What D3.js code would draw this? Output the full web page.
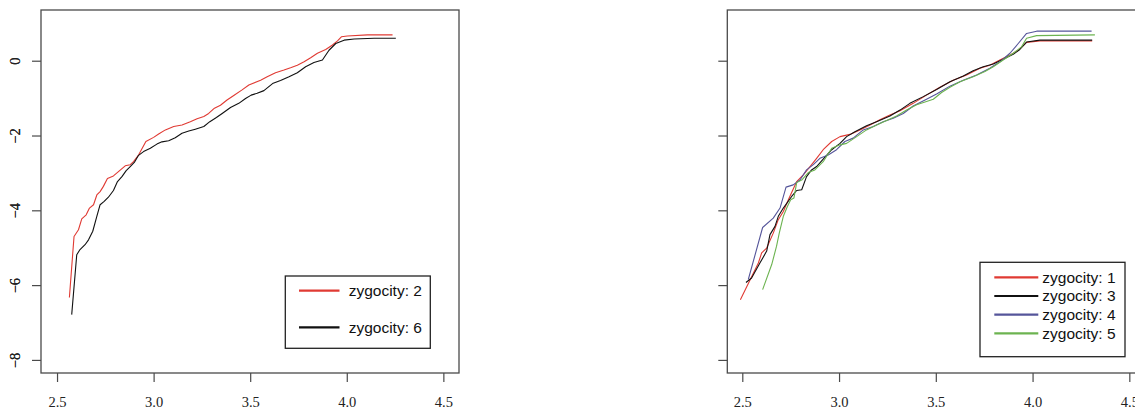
<!DOCTYPE html>
<html><head><meta charset="utf-8">
<script src="https://cdn.jsdelivr.net/npm/d3@7"></script>
<style>body{margin:0;background:#fff}svg{display:block}
.tick text{font-family:'Liberation Serif','Times New Roman',serif !important;}</style>
</head><body>
<svg id="chart" width="1135" height="408"></svg>
<script>
// ---- data ----
const xTicks = [2.5, 3.0, 3.5, 4.0, 4.5];
const yTicks = [0, -2, -4, -6, -8];

const z2x = [2.564,2.588,2.611,2.628,2.651,2.668,2.689,2.706,2.723,2.74,2.761,2.792,2.824,2.853,2.879,2.896,2.922,2.96,3.0,3.026,3.061,3.104,3.147,3.19,3.225,3.26,3.285,3.315,3.346,3.38,3.415,3.458,3.493,3.554,3.588,3.631,3.675,3.709,3.744,3.779,3.813,3.848,3.891,3.926,3.952,3.972,4.003,4.107,4.237];
const z2y = [-6.33,-4.70,-4.52,-4.23,-4.12,-3.94,-3.85,-3.59,-3.50,-3.36,-3.15,-3.08,-2.94,-2.81,-2.78,-2.70,-2.52,-2.16,-2.05,-1.96,-1.85,-1.76,-1.72,-1.63,-1.55,-1.49,-1.41,-1.27,-1.19,-1.05,-0.93,-0.78,-0.65,-0.52,-0.43,-0.32,-0.25,-0.19,-0.12,-0.03,0.08,0.20,0.30,0.42,0.53,0.64,0.66,0.69,0.69];

const z6x = [2.576,2.602,2.619,2.645,2.663,2.685,2.706,2.723,2.744,2.766,2.792,2.813,2.836,2.858,2.879,2.9,2.922,2.948,2.983,3.017,3.043,3.078,3.112,3.147,3.182,3.216,3.26,3.291,3.325,3.355,3.398,3.441,3.476,3.505,3.536,3.571,3.619,3.657,3.701,3.744,3.787,3.83,3.874,3.908,3.943,3.986,4.038,4.142,4.254];
const z6y = [-6.79,-5.19,-5.05,-4.92,-4.79,-4.56,-4.16,-3.85,-3.76,-3.65,-3.47,-3.23,-3.10,-2.94,-2.83,-2.72,-2.53,-2.43,-2.34,-2.23,-2.17,-2.14,-2.06,-1.94,-1.88,-1.83,-1.76,-1.63,-1.52,-1.41,-1.25,-1.14,-1.01,-0.92,-0.87,-0.80,-0.60,-0.53,-0.43,-0.32,-0.16,-0.05,0.02,0.28,0.46,0.55,0.58,0.60,0.60];

const z1x = [2.49,2.583,2.60,2.626,2.66,2.686,2.712,2.738,2.781,2.815,2.85,2.884,2.918,2.962,3.005,3.056,3.108,3.16,3.211,3.263,3.315,3.383,3.452,3.521,3.59,3.659,3.728,3.779,3.831,3.883,3.926,3.969,4.038,4.308];
const z1y = [-6.39,-5.41,-5.14,-5.01,-4.61,-4.25,-4.03,-3.72,-3.23,-3.05,-2.83,-2.61,-2.38,-2.16,-2.03,-1.97,-1.85,-1.72,-1.58,-1.45,-1.34,-1.14,-0.92,-0.71,-0.52,-0.38,-0.20,-0.12,0.02,0.15,0.28,0.49,0.53,0.53];

const z3x = [2.519,2.548,2.591,2.626,2.643,2.669,2.686,2.712,2.755,2.781,2.807,2.832,2.858,2.884,2.918,2.962,3.005,3.039,3.082,3.142,3.194,3.263,3.315,3.366,3.435,3.504,3.573,3.642,3.693,3.745,3.797,3.848,3.9,3.934,3.969,4.038,4.308];
const z3y = [-5.93,-5.81,-5.41,-5.09,-4.65,-4.43,-4.16,-3.94,-3.63,-3.47,-3.45,-3.10,-2.92,-2.83,-2.63,-2.38,-2.21,-2.03,-1.90,-1.74,-1.63,-1.48,-1.32,-1.14,-0.96,-0.77,-0.56,-0.41,-0.27,-0.16,-0.09,0.04,0.17,0.30,0.50,0.55,0.55];

const z4x = [2.531,2.605,2.66,2.695,2.726,2.763,2.798,2.832,2.867,2.901,2.944,2.987,3.03,3.073,3.125,3.177,3.228,3.28,3.332,3.383,3.452,3.504,3.573,3.642,3.711,3.779,3.831,3.883,3.926,3.969,4.021,4.305];
const z4y = [-5.85,-4.46,-4.21,-3.94,-3.38,-3.32,-3.19,-2.92,-2.78,-2.61,-2.52,-2.38,-2.16,-2.07,-1.85,-1.76,-1.63,-1.54,-1.41,-1.21,-1.03,-0.89,-0.68,-0.52,-0.38,-0.20,-0.03,0.20,0.46,0.73,0.79,0.79];

const z5x = [2.605,2.652,2.677,2.691,2.712,2.733,2.75,2.767,2.781,2.807,2.841,2.875,2.918,2.962,3.005,3.039,3.091,3.142,3.194,3.246,3.297,3.349,3.401,3.452,3.487,3.53,3.573,3.625,3.693,3.754,3.797,3.848,3.9,3.943,3.969,4.021,4.322];
const z5y = [-6.12,-5.45,-4.96,-4.61,-4.16,-3.90,-3.72,-3.67,-3.26,-3.19,-2.99,-2.92,-2.70,-2.34,-2.25,-2.21,-2.03,-1.85,-1.72,-1.60,-1.48,-1.32,-1.18,-1.09,-1.03,-0.85,-0.71,-0.56,-0.43,-0.29,-0.16,0.02,0.20,0.37,0.60,0.67,0.69];

const leftLabels = ["zygocity: 2", "zygocity: 6"];
const rightLabels = ["zygocity: 1", "zygocity: 3", "zygocity: 4", "zygocity: 5"];

// ---- drawing ----
const svg = d3.select("#chart");
const RED = "#e03a33", BLACK = "#111111", BLUE = "#55559a", GREEN = "#6cb350";
const AXIS = "#4a4a4a";

function panel(cfg) {
  const x = d3.scaleLinear().domain(cfg.xdom).range([cfg.left, cfg.right]);
  const y = d3.scaleLinear().domain([-8.35, 1.356]).range([373, 10]);
  const g = svg.append("g");
  g.append("rect").attr("x", cfg.left).attr("y", 10)
    .attr("width", cfg.right - cfg.left).attr("height", 363)
    .attr("fill", "none").attr("stroke", AXIS).attr("stroke-width", 1.3);
  const xa = g.append("g").attr("transform", "translate(0,373)")
    .call(d3.axisBottom(x).tickValues(xTicks).tickSize(9).tickFormat(d3.format(".1f")));
  xa.attr("font-family", "'Liberation Serif', 'Times New Roman', serif").attr("font-size", 14.5);
  xa.select(".domain").remove();
  xa.selectAll("line").attr("stroke", AXIS).attr("stroke-width", 1.2);
  xa.selectAll("text").attr("fill", "#222").attr("y", 0).attr("dy", 0)
    .attr("transform", "translate(0,33.5)");
  const ya = g.append("g").attr("transform", `translate(${cfg.left},0)`)
    .call(d3.axisLeft(y).tickValues(yTicks).tickSize(9).tickFormat(d => d === 0 ? "0" : "\u2212" + Math.abs(d)));
  ya.attr("font-family", "'Liberation Serif', 'Times New Roman', serif").attr("font-size", 14.5);
  ya.select(".domain").remove();
  ya.selectAll("line").attr("stroke", AXIS).attr("stroke-width", 1.2);
  ya.selectAll("text").attr("fill", "#222").attr("x", 0).attr("dy", 0)
    .attr("text-anchor", "middle")
    .attr("transform", `translate(${19.5 - cfg.left},0) rotate(-90)`);
  const line = d3.line().x(d => x(d[0])).y(d => y(d[1]));
  cfg.series.forEach(s => {
    g.append("path").datum(d3.zip(s.xs, s.ys)).attr("d", line)
      .attr("fill", "none").attr("stroke", s.color).attr("stroke-width", 1.1)
      .attr("stroke-linejoin", "round");
  });
  const L = cfg.legend;
  g.append("rect").attr("x", L.x).attr("y", L.y).attr("width", L.w).attr("height", L.h)
    .attr("fill", "#fff").attr("stroke", "#222").attr("stroke-width", 1.3);
  cfg.series.forEach((s, i) => {
    const ly = L.firstY + i * L.step;
    g.append("line").attr("x1", L.lx1).attr("x2", L.lx2).attr("y1", ly).attr("y2", ly)
      .attr("stroke", s.color).attr("stroke-width", 2.2);
    g.append("text").attr("x", L.tx).attr("y", ly).attr("dy", "0.35em")
      .attr("font-family", "'Liberation Sans', Arial, sans-serif").attr("font-size", 15.5)
      .attr("fill", "#111").text(s.label);
  });
}

panel({
  left: 41, right: 459, xdom: [2.417, 4.581],
  series: [
    {xs: z2x, ys: z2y, color: RED, label: leftLabels[0]},
    {xs: z6x, ys: z6y, color: BLACK, label: leftLabels[1]}
  ],
  legend: {x: 285.3, y: 276, w: 145, h: 72.3, firstY: 290.7, step: 36.6, lx1: 299, lx2: 339.5, tx: 348.7}
});

panel({
  left: 727.3, right: 1145, xdom: [2.4225, 4.581],
  series: [
    {xs: z1x, ys: z1y, color: RED, label: rightLabels[0]},
    {xs: z3x, ys: z3y, color: BLACK, label: rightLabels[1]},
    {xs: z4x, ys: z4y, color: BLUE, label: rightLabels[2]},
    {xs: z5x, ys: z5y, color: GREEN, label: rightLabels[3]}
  ],
  legend: {x: 980, y: 262.3, w: 145, h: 94.4, firstY: 277.3, step: 18.7, lx1: 994.3, lx2: 1038.3, tx: 1042.3}
});
</script>
</body></html>
